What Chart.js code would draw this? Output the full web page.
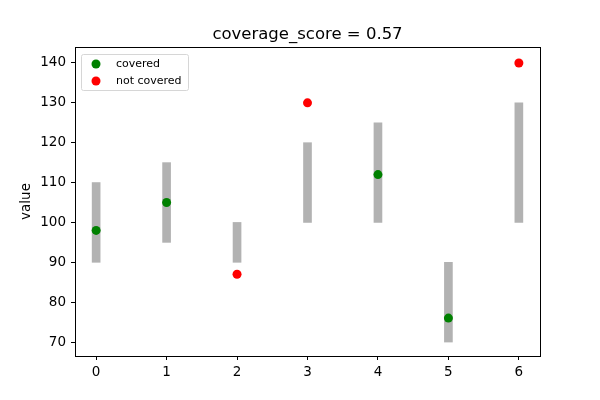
<!DOCTYPE html>
<html>
<head>
<meta charset="utf-8">
<script src="https://cdn.jsdelivr.net/npm/chart.js@4/dist/chart.umd.min.js"></script>
<style>
  html, body { margin: 0; padding: 0; background: #fff; }
  #wrap { width: 600px; height: 400px; }
</style>
</head>
<body>
<div id="wrap"><canvas id="cov"></canvas></div>
<script>
// data
const positions = [0, 1, 2, 3, 4, 5, 6];
const lower = [90, 95, 90, 100, 100, 70, 100];
const upper = [110, 115, 100, 120, 125, 90, 130];
const observed = [98, 105, 87, 130, 112, 76, 140];
const yTicks = [70, 80, 90, 100, 110, 120, 130, 140];
const titleText = "coverage_score = 0.57";
const yLabel = "value";

const FONT = "'DejaVu Sans', sans-serif";

let covered = [];
let notCovered = [];
positions.forEach((p, i) => {
    let pt = {x: p, y: observed[i]};
    if (observed[i] >= lower[i] && observed[i] <= upper[i]) covered.push(pt);
    else notCovered.push(pt);
});

const mplFrame = {
    id: "mplFrame",
    afterDraw(chart) {
        let ctx = chart.ctx;
        let a = chart.chartArea;
        ctx.save();
        ctx.strokeStyle = "#000";
        ctx.lineWidth = 1;
        ctx.strokeRect(Math.round(a.left) + 0.5, Math.round(a.top) + 0.5,
            Math.round(a.right - a.left), Math.round(a.bottom - a.top));

        // title
        ctx.fillStyle = "#000";
        ctx.font = "16.5px " + FONT;
        ctx.textAlign = "center";
        ctx.textBaseline = "alphabetic";
        ctx.fillText(titleText, (a.left + a.right) / 2, 39);

        // y label
        ctx.font = "13.5px " + FONT;
        ctx.translate(30, (a.top + a.bottom) / 2);
        ctx.rotate(-Math.PI / 2);
        ctx.textBaseline = "alphabetic";
        ctx.fillText(yLabel, 0, 0);
        ctx.setTransform(1, 0, 0, 1, 0, 0);

        // legend
        let lx = a.left + 6, ly = a.top + 7;
        ctx.fillStyle = "rgba(255,255,255,0.8)";
        ctx.strokeStyle = "#d6d6d6";
        ctx.beginPath();
        ctx.roundRect(lx + 0.5, ly + 0.5, 107, 36, 2);
        ctx.fill();
        ctx.stroke();
        let items = [["covered", "green"], ["not covered", "red"]];
        ctx.font = "11px " + FONT;
        ctx.textAlign = "left";
        ctx.textBaseline = "middle";
        items.forEach((it, i) => {
            let cy = ly + 10 + i * 17;
            ctx.fillStyle = it[1];
            ctx.beginPath();
            ctx.arc(lx + 15, cy, 4.5, 0, Math.PI * 2);
            ctx.fill();
            ctx.fillStyle = "#000";
            ctx.fillText(it[0], lx + 35, cy);
        });
        ctx.restore();
    }
};

function tickFilter(list) {
    return function (scale) {
        scale.ticks = list.map(v => ({value: v}));
    };
}

new Chart(document.querySelector("#cov"), {
    type: "bar",
    data: {
        datasets: [
            {
                type: "bar",
                label: "interval",
                data: positions.map((p, i) => ({x: p, y: [lower[i], upper[i]]})),
                backgroundColor: "#b2b2b2",
                borderWidth: 0,
                barThickness: 8,
                order: 2
            },
            {
                type: "scatter",
                label: "covered",
                data: covered,
                backgroundColor: "green",
                borderWidth: 0,
                pointRadius: 4.5,
                order: 1
            },
            {
                type: "scatter",
                label: "not covered",
                data: notCovered,
                backgroundColor: "red",
                borderWidth: 0,
                pointRadius: 4.5,
                order: 1
            }
        ]
    },
    options: {
        responsive: true,
        maintainAspectRatio: false,
        animation: false,
        layout: {padding: {left: 0, right: 60, top: 47, bottom: 0}},
        plugins: {
            legend: {display: false},
            title: {display: false},
            tooltip: {enabled: false}
        },
        scales: {
            x: {
                type: "linear",
                offset: false,
                min: -0.3,
                max: 6.3,
                afterBuildTicks: tickFilter(positions),
                afterFit(scale) { scale.height = 44; },
                grid: {display: true, offset: false, drawOnChartArea: false, tickLength: 4, color: "#000"},
                border: {display: false},
                ticks: {color: "#000", font: {family: FONT, size: 13.5}, padding: 4}
            },
            y: {
                min: 66.5,
                max: 144,
                afterBuildTicks: tickFilter(yTicks),
                afterFit(scale) { scale.width = 75; },
                grid: {display: true, drawOnChartArea: false, tickLength: 4, color: "#000"},
                border: {display: false},
                ticks: {color: "#000", font: {family: FONT, size: 13.5}, padding: 5}
            }
        }
    },
    plugins: [mplFrame]
});
</script>
</body>
</html>
